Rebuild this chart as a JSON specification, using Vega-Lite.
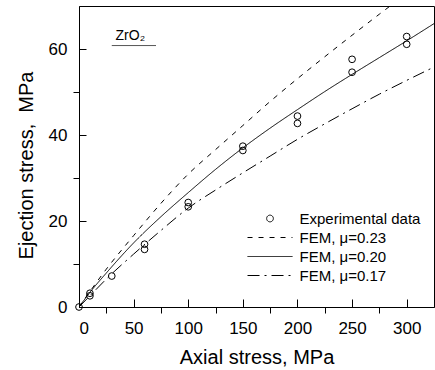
{
  "$schema": "https://vega.github.io/schema/vega-lite/v6.json",
  "width": 355,
  "height": 301,
  "autosize": "none",
  "padding": {"left": 79, "top": 6, "right": 1, "bottom": 63},
  "config": {
    "font": "Liberation Sans",
    "view": {"stroke": "black", "strokeWidth": 1},
    "axis": {"labelFont": "Liberation Sans", "titleFont": "Liberation Sans", "labelColor": "black", "titleColor": "black", "grid": false, "labelFontSize": 17, "titleFontSize": 20, "titleFontWeight": "normal"},
    "legend": {
      "orient": "none", "legendX": 183.5, "legendY": 205, "padding": 0,
      "labelFont": "Liberation Sans", "labelFontSize": 15, "labelColor": "black",
      "labelOffset": 22, "rowPadding": 3,
      "symbolStrokeColor": "black", "symbolFillColor": "transparent", "symbolStrokeWidth": 1, "symbolSize": 45
    }
  },
  "resolve": {"axis": {"x": "independent", "y": "independent"}},
  "datasets": {
    "exp": [
      {"axial": 0, "ejection": 0, "series": "Experimental data"},
      {"axial": 10, "ejection": 3.2, "series": "Experimental data"},
      {"axial": 10, "ejection": 2.6, "series": "Experimental data"},
      {"axial": 30, "ejection": 7.2, "series": "Experimental data"},
      {"axial": 60, "ejection": 14.6, "series": "Experimental data"},
      {"axial": 60, "ejection": 13.4, "series": "Experimental data"},
      {"axial": 100, "ejection": 24.3, "series": "Experimental data"},
      {"axial": 100, "ejection": 23.3, "series": "Experimental data"},
      {"axial": 150, "ejection": 37.4, "series": "Experimental data"},
      {"axial": 150, "ejection": 36.4, "series": "Experimental data"},
      {"axial": 200, "ejection": 44.4, "series": "Experimental data"},
      {"axial": 200, "ejection": 42.7, "series": "Experimental data"},
      {"axial": 250, "ejection": 57.6, "series": "Experimental data"},
      {"axial": 250, "ejection": 54.6, "series": "Experimental data"},
      {"axial": 300, "ejection": 62.9, "series": "Experimental data"},
      {"axial": 300, "ejection": 61.1, "series": "Experimental data"}
    ],
    "fem": [
      {"axial": 0, "ejection": 0, "series": "FEM, μ=0.23"},
      {"axial": 10, "ejection": 3.6, "series": "FEM, μ=0.23"},
      {"axial": 25, "ejection": 8.8, "series": "FEM, μ=0.23"},
      {"axial": 50, "ejection": 16.6, "series": "FEM, μ=0.23"},
      {"axial": 75, "ejection": 24.1, "series": "FEM, μ=0.23"},
      {"axial": 100, "ejection": 30.9, "series": "FEM, μ=0.23"},
      {"axial": 125, "ejection": 36.6, "series": "FEM, μ=0.23"},
      {"axial": 150, "ejection": 42.2, "series": "FEM, μ=0.23"},
      {"axial": 175, "ejection": 47.8, "series": "FEM, μ=0.23"},
      {"axial": 200, "ejection": 53.1, "series": "FEM, μ=0.23"},
      {"axial": 225, "ejection": 58.2, "series": "FEM, μ=0.23"},
      {"axial": 250, "ejection": 63.2, "series": "FEM, μ=0.23"},
      {"axial": 275, "ejection": 68.1, "series": "FEM, μ=0.23"},
      {"axial": 300, "ejection": 72.9, "series": "FEM, μ=0.23"},
      {"axial": 0, "ejection": 0, "series": "FEM, μ=0.20"},
      {"axial": 10, "ejection": 3.4, "series": "FEM, μ=0.20"},
      {"axial": 25, "ejection": 7.9, "series": "FEM, μ=0.20"},
      {"axial": 50, "ejection": 14.9, "series": "FEM, μ=0.20"},
      {"axial": 75, "ejection": 21.0, "series": "FEM, μ=0.20"},
      {"axial": 100, "ejection": 26.6, "series": "FEM, μ=0.20"},
      {"axial": 125, "ejection": 32.0, "series": "FEM, μ=0.20"},
      {"axial": 150, "ejection": 37.0, "series": "FEM, μ=0.20"},
      {"axial": 175, "ejection": 41.6, "series": "FEM, μ=0.20"},
      {"axial": 200, "ejection": 45.9, "series": "FEM, μ=0.20"},
      {"axial": 225, "ejection": 50.1, "series": "FEM, μ=0.20"},
      {"axial": 250, "ejection": 54.1, "series": "FEM, μ=0.20"},
      {"axial": 275, "ejection": 58.0, "series": "FEM, μ=0.20"},
      {"axial": 300, "ejection": 61.9, "series": "FEM, μ=0.20"},
      {"axial": 325, "ejection": 65.9, "series": "FEM, μ=0.20"},
      {"axial": 0, "ejection": 0, "series": "FEM, μ=0.17"},
      {"axial": 10, "ejection": 2.6, "series": "FEM, μ=0.17"},
      {"axial": 25, "ejection": 6.5, "series": "FEM, μ=0.17"},
      {"axial": 50, "ejection": 12.3, "series": "FEM, μ=0.17"},
      {"axial": 75, "ejection": 17.8, "series": "FEM, μ=0.17"},
      {"axial": 100, "ejection": 23.0, "series": "FEM, μ=0.17"},
      {"axial": 125, "ejection": 27.2, "series": "FEM, μ=0.17"},
      {"axial": 150, "ejection": 31.2, "series": "FEM, μ=0.17"},
      {"axial": 175, "ejection": 35.1, "series": "FEM, μ=0.17"},
      {"axial": 200, "ejection": 39.0, "series": "FEM, μ=0.17"},
      {"axial": 225, "ejection": 42.6, "series": "FEM, μ=0.17"},
      {"axial": 250, "ejection": 46.1, "series": "FEM, μ=0.17"},
      {"axial": 275, "ejection": 49.5, "series": "FEM, μ=0.17"},
      {"axial": 300, "ejection": 52.7, "series": "FEM, μ=0.17"},
      {"axial": 325, "ejection": 55.8, "series": "FEM, μ=0.17"}
    ],
    "note": [
      {"x": 47, "x2": 70.5, "x1": 30, "y": 62.1, "yline": 60.8, "label": "ZrO₂"}
    ]
  },
  "layer": [
    {
      "data": {"name": "fem"},
      "mark": {"type": "line", "color": "black", "strokeWidth": 1, "clip": true, "interpolate": "monotone"},
      "encoding": {
        "x": {
          "field": "axial", "type": "quantitative",
          "scale": {"domain": [0, 325], "nice": false, "zero": false},
          "axis": {
            "orient": "bottom",
            "title": "Axial stress, MPa",
            "values": [0, 50, 100, 150, 200, 250, 300],
            "ticks": true, "tickSize": -8, "tickColor": "black", "tickWidth": 1, "tickOpacity": 1,
            "domain": true, "domainColor": "black", "zindex": 1,
            "labelPadding": 21, "titlePadding": 11
          }
        },
        "y": {
          "field": "ejection", "type": "quantitative",
          "scale": {"domain": [0, 70], "nice": false, "zero": false},
          "axis": {
            "orient": "left",
            "title": "Ejection stress,\u00a0 MPa",
            "values": [0, 20, 40, 60],
            "ticks": true, "tickSize": -7, "tickColor": "black", "tickWidth": 1, "tickOpacity": 1,
            "domain": true, "domainColor": "black", "zindex": 1,
            "labelPadding": 19, "titlePadding": 12, "titleY": 159
          }
        },
        "strokeDash": {
          "field": "series", "type": "nominal",
          "scale": {"domain": ["Experimental data", "FEM, μ=0.23", "FEM, μ=0.20", "FEM, μ=0.17"], "range": [[1, 0], [5, 6], [1, 0], [12, 5, 2, 5]]},
          "legend": {"title": null}
        }
      }
    },
    {
      "data": {"name": "exp"},
      "mark": {"type": "point", "filled": false, "color": "black", "size": 45, "strokeWidth": 1, "opacity": 1},
      "encoding": {
        "x": {"field": "axial", "type": "quantitative", "axis": null},
        "y": {"field": "ejection", "type": "quantitative", "axis": null},
        "shape": {
          "field": "series", "type": "nominal",
          "scale": {"domain": ["Experimental data", "FEM, μ=0.23", "FEM, μ=0.20", "FEM, μ=0.17"], "range": ["circle", "M-6.7,0L6.7,0", "M-6.7,0L6.7,0", "M-6.7,0L6.7,0"]},
          "legend": {"title": null}
        }
      }
    },
    {
      "data": {"name": "note"},
      "mark": {"type": "text", "fontSize": 14, "align": "center", "baseline": "alphabetic", "color": "black", "font": "Liberation Sans"},
      "encoding": {
        "x": {
          "field": "x", "type": "quantitative",
          "axis": {"orient": "bottom", "title": null, "labels": false, "domain": false, "values": [25, 75, 125, 175, 225, 275], "ticks": true, "tickSize": 6, "tickColor": "black", "zindex": 1}
        },
        "y": {
          "field": "y", "type": "quantitative",
          "axis": {"orient": "left", "title": null, "labels": false, "domain": false, "values": [10, 30, 50], "ticks": true, "tickSize": 6, "tickColor": "black", "zindex": 1}
        },
        "text": {"field": "label"}
      }
    },
    {
      "data": {"name": "note"},
      "mark": {"type": "rule", "color": "#555", "strokeWidth": 1},
      "encoding": {
        "x": {"field": "x1", "type": "quantitative", "axis": null},
        "x2": {"field": "x2"},
        "y": {"field": "yline", "type": "quantitative", "axis": null}
      }
    }
  ]
}
